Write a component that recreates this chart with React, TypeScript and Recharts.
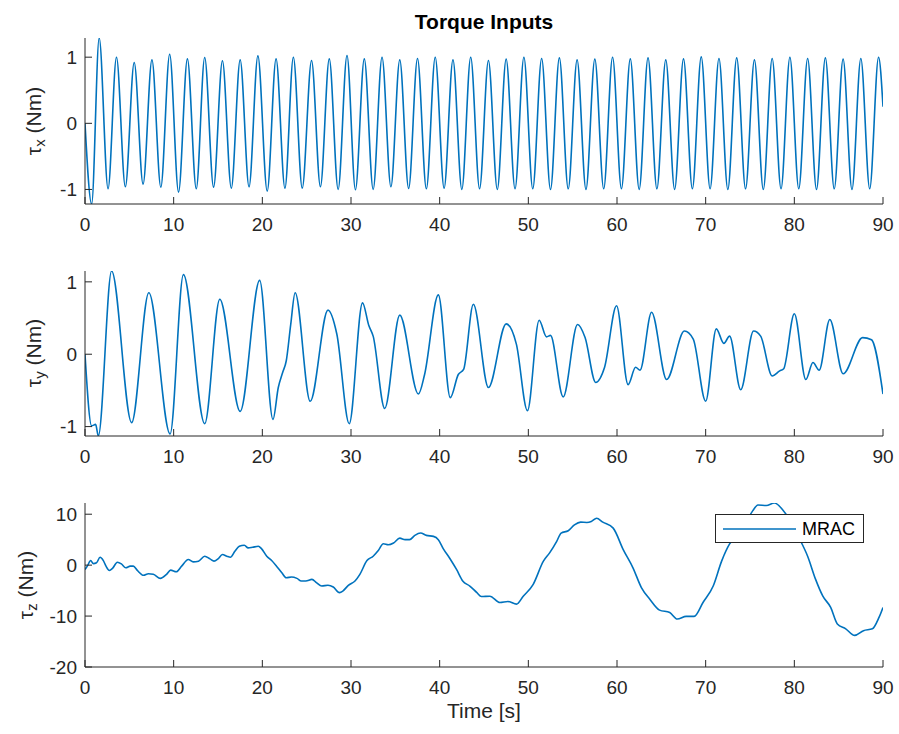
import { LineChart, Line, XAxis, YAxis, Legend } from 'recharts'

// time axis shared by all three panels
const timeTicks = [0, 10, 20, 30, 40, 50, 60, 70, 80, 90]

// tau_x (roll torque) – turning points
const tauXTime = [
  0, 0.75, 1.6, 2.6, 3.55, 4.55, 5.55, 6.55, 7.55, 8.55, 9.55, 10.55, 11.55, 12.55, 13.5, 14.5,
  15.5, 16.5, 17.5, 18.5, 19.5, 20.55, 21.55, 22.55, 23.5, 24.5, 25.55, 26.55, 27.55, 28.55, 29.55,
  30.5, 31.5, 32.5, 33.5, 34.5, 35.5, 36.5, 37.5, 38.5, 39.5, 40.5, 41.5, 42.5, 43.5, 44.5, 45.5,
  46.5, 47.5, 48.5, 49.5, 50.5, 51.5, 52.5, 53.5, 54.5, 55.5, 56.5, 57.5, 58.5, 59.5, 60.5, 61.5,
  62.5, 63.5, 64.5, 65.5, 66.5, 67.5, 68.5, 69.5, 70.5, 71.5, 72.5, 73.5, 74.5, 75.5, 76.5, 77.5,
  78.5, 79.5, 80.5, 81.5, 82.5, 83.5, 84.5, 85.5, 86.5, 87.5, 88.5, 89.5, 90,
]
const tauXValue = [
  0, -1.22, 1.29, -0.99, 1.0, -0.96, 0.92, -0.92, 0.96, -0.965, 1.045, -1.04, 0.975, -0.99, 0.995,
  -0.965, 0.945, -0.98, 0.96, -0.96, 1.02, -1.025, 0.975, -0.98, 1.0, -0.98, 0.95, -0.96, 0.975,
  -1.0, 1.025, -1.005, 0.975, -1.0, 1.0, -0.96, 0.96, -0.985, 0.98, -0.99, 1.0, -0.98, 0.96, -1.0,
  1.0, -0.99, 0.95, -1.0, 0.97, -0.99, 1.0, -0.99, 0.98, -1.0, 0.99, -0.99, 0.96, -1.0, 0.97, -0.99,
  1.0, -0.99, 0.975, -1.0, 0.99, -0.99, 0.96, -1.0, 0.975, -0.99, 1.005, -0.99, 0.98, -1.0, 0.99,
  -0.99, 0.96, -1.0, 0.98, -0.99, 1.0, -0.99, 0.98, -1.0, 0.99, -0.99, 0.97, -1.0, 0.98, -0.99, 1.0,
  0.25,
]

// tau_y (pitch torque)
const tauYTime = [
  0, 0.75, 1.2, 1.5, 3.0, 5.26, 7.2, 9.6, 11.1, 13.5, 15.2, 17.5, 19.7, 21.2, 21.8, 22.3, 22.7,
  23.2, 23.7, 25.4, 27.4, 28.4, 29.8, 31.3, 32.0, 32.5, 33.8, 35.5, 37.6, 38.3, 39.85, 41.2, 42.1,
  42.7, 43.8, 45.5, 47.5, 48.65, 49.9, 51.22, 52.05, 52.5, 53.93, 55.55, 56.4, 57.6, 58.6, 59.95,
  61.25, 62.1, 62.6, 63.9, 65.6, 67.6, 68.6, 70.0, 71.2, 72.05, 72.7, 73.95, 75.4, 76.2, 77.5, 78.35,
  78.8, 80.0, 81.3, 82.1, 82.8, 84.0, 85.5, 87.7, 88.7, 90,
]
const tauYValue = [
  0, -0.99, -0.97, -1.13, 1.15, -0.945, 0.85, -1.1, 1.1, -0.96, 0.76, -0.79, 1.02, -0.9, -0.46,
  -0.25, -0.09, 0.41, 0.85, -0.65, 0.61, 0.28, -0.96, 0.71, 0.4, 0.25, -0.75, 0.54, -0.55, -0.28,
  0.82, -0.6, -0.28, -0.21, 0.69, -0.46, 0.42, 0.14, -0.78, 0.47, 0.24, 0.26, -0.59, 0.41, 0.23,
  -0.39, -0.18, 0.67, -0.42, -0.18, -0.22, 0.58, -0.35, 0.32, 0.21, -0.65, 0.35, 0.15, 0.25, -0.49,
  0.32, 0.25, -0.3, -0.23, -0.2, 0.56, -0.35, -0.115, -0.22, 0.48, -0.27, 0.23, 0.2, -0.55,
]

// tau_z (yaw torque)
const tauZTime = [
  0, 0.26, 0.64, 0.94, 1.3, 1.7, 2.07, 2.37, 2.74, 3.1, 3.65, 4.1, 4.6, 5.1, 5.45, 5.9, 6.6, 7.15,
  7.7, 8.5, 9.2, 9.66, 10.3, 10.9, 11.65, 12.2, 12.8, 13.5, 14.1, 14.55, 15.0, 15.5, 16.0, 16.4,
  16.9, 17.4, 17.97, 18.4, 18.9, 19.55, 19.9, 20.5, 21.05, 21.6, 22.2, 22.7, 23.3, 23.9, 24.4, 24.9,
  25.6, 26.1, 26.7, 27.4, 28.0, 28.7, 29.1, 29.7, 30.45, 31.0, 31.8, 32.5, 33.1, 33.65, 34.2, 34.8,
  35.5, 36.1, 36.6, 37.2, 37.85, 38.5, 39.3, 39.85, 40.4, 41.15, 41.9, 42.6, 43.4, 44.2, 44.7, 45.66,
  46.8, 47.7, 48.67, 49.4, 50.55, 51.7, 52.4, 53.2, 53.7, 54.5, 55.2, 55.9, 56.6, 57.1, 57.7, 58.4,
  59.57, 60.7, 61.8, 62.75, 63.7, 64.8, 65.95, 66.8, 67.8, 68.7, 69.7, 70.85, 71.8, 72.7, 73.65,
  74.6, 75.3, 75.9, 76.85, 77.75, 78.7, 79.6, 80.55, 81.5, 82.4, 83.2, 84.1, 84.85, 85.8, 86.8, 87.8,
  88.8, 89.55, 90,
]
const tauZValue = [
  -0.85, -0.2, 0.9, 0.3, 0.45, 1.56, 0.9, -0.2, -1.04, -0.65, 0.58, 0.26, -0.52, -0.2, -0.2, -1.04,
  -2.0, -1.7, -1.8, -2.6, -1.8, -0.97, -1.3, -0.2, 1.1, 0.65, 0.78, 1.75, 1.23, 0.78, 1.23, 2.08,
  1.75, 1.56, 2.73, 3.7, 3.9, 3.38, 3.5, 3.7, 3.25, 1.75, 0.9, -0.2, -1.5, -2.47, -2.34, -2.6, -3.1,
  -3.1, -2.8, -3.44, -4.1, -3.96, -4.3, -5.4, -5.06, -3.96, -3.1, -1.8, 0.9, 1.75, 2.92, 4.2, 4.0,
  4.35, 5.3, 5.0, 5.0, 5.84, 6.3, 5.84, 5.65, 5.0, 3.25, 1.3, -0.85, -3.1, -4.1, -5.4, -6.17, -6.1,
  -7.34, -7.14, -7.66, -6.17, -3.77, 0.78, 2.4, 4.68, 6.3, 6.75, 7.9, 8.44, 8.38, 8.57, 9.2, 8.44,
  7.27, 3.05, -0.52, -4.4, -6.7, -8.83, -9.3, -10.58, -10.06, -10.06, -7.34, -4.1, 0.78, 4.16, 5.97,
  8.57, 10.65, 11.8, 11.7, 12.2, 10.84, 8.57, 5.3, 1.75, -2.8, -6.04, -8.3, -11.56, -12.5, -13.8,
  -12.86, -12.5, -10.26, -8.3,
]

const unitTicks = [-1, 0, 1]
const tauZTicks = [-20, -10, 0, 10]

const LINE_COLOR = '#0072BD'
const AXIS_COLOR = '#262626'
const FONT = '"Liberation Sans", Arial, Helvetica, sans-serif'

const toRows = (time: number[], value: number[]) =>
  time.map((t, i) => ({ t, v: value[i] }))

function LegendBox() {
  return (
    <div
      style={{
        width: 149,
        height: 29,
        boxSizing: 'border-box',
        border: `1px solid ${AXIS_COLOR}`,
        background: '#fff',
        position: 'relative',
        fontFamily: FONT,
      }}
    >
      <svg width={149} height={29} style={{ position: 'absolute', left: 0, top: 0 }}>
        <line x1={7} x2={80} y1={14} y2={14} stroke={LINE_COLOR} strokeWidth={1.5} />
      </svg>
      <span
        style={{
          position: 'absolute',
          left: 86,
          top: 4,
          fontSize: 18,
          lineHeight: '20px',
          color: '#000',
        }}
      >
        MRAC
      </span>
    </div>
  )
}

interface PanelProps {
  top: number
  height: number
  marginTop: number
  marginBottom: number
  data: { t: number; v: number }[]
  domain: [number, number]
  ticks: number[]
  showLegend?: boolean
}

function Panel({ top, height, marginTop, marginBottom, data, domain, ticks, showLegend }: PanelProps) {
  const tickStyle = { fill: AXIS_COLOR, fontSize: 19, fontFamily: FONT }
  return (
    <div style={{ position: 'absolute', left: 0, top }}>
      <LineChart
        width={899}
        height={height}
        data={data}
        margin={{ top: marginTop, right: 16, bottom: marginBottom, left: 25 }}
      >
        <XAxis
          dataKey="t"
          type="number"
          domain={[0, 90]}
          ticks={timeTicks}
          interval={0}
          allowDataOverflow
          height={30}
          tickSize={-7}
          tickMargin={21}
          stroke={AXIS_COLOR}
          tick={tickStyle}
        />
        <XAxis
          xAxisId="top"
          orientation="top"
          type="number"
          domain={[0, 90]}
          ticks={timeTicks}
          interval={0}
          allowDataOverflow
          height={0}
          tickSize={-7}
          tick={false}
          stroke={AXIS_COLOR}
        />
        <YAxis
          type="number"
          domain={domain}
          ticks={ticks}
          interval={0}
          allowDataOverflow
          width={60}
          tickSize={-7}
          tickMargin={15}
          stroke={AXIS_COLOR}
          tick={tickStyle}
        />
        <YAxis
          yAxisId="right"
          orientation="right"
          type="number"
          domain={domain}
          ticks={ticks}
          interval={0}
          allowDataOverflow
          width={0}
          tickSize={-7}
          tick={false}
          stroke={AXIS_COLOR}
        />
        {showLegend && (
          <Legend
            layout="vertical"
            align="center"
            verticalAlign="middle"
            wrapperStyle={{ left: 715, top: 44, width: 149, height: 29 }}
            content={() => <LegendBox />}
          />
        )}
        <Line
          type="monotone"
          dataKey="v"
          name="MRAC"
          stroke={LINE_COLOR}
          strokeWidth={1.6}
          dot={false}
          activeDot={false}
          isAnimationActive={false}
        />
      </LineChart>
    </div>
  )
}

function AxisTitle({ x, y, sub }: { x: number; y: number; sub: string }) {
  return (
    <div
      style={{
        position: 'absolute',
        left: x,
        top: y,
        transform: 'translate(-50%, -50%) rotate(-90deg)',
        whiteSpace: 'nowrap',
        fontFamily: FONT,
        fontSize: 21,
        lineHeight: 1,
        color: AXIS_COLOR,
      }}
    >
      τ<sub style={{ fontSize: 15, verticalAlign: '-4px' }}>{sub}</sub> (Nm)
    </div>
  )
}

export default function App() {
  return (
    <div
      style={{
        position: 'absolute',
        left: 0,
        top: 0,
        width: 899,
        height: 734,
        background: '#fff',
        fontFamily: FONT,
      }}
    >
      <Panel
        top={0}
        height={240}
        marginTop={38}
        marginBottom={6}
        data={toRows(tauXTime, tauXValue)}
        domain={[-1.22, 1.29]}
        ticks={unitTicks}
      />
      <Panel
        top={240}
        height={230}
        marginTop={31}
        marginBottom={4}
        data={toRows(tauYTime, tauYValue)}
        domain={[-1.13, 1.15]}
        ticks={unitTicks}
      />
      <Panel
        top={470}
        height={264}
        marginTop={33}
        marginBottom={37}
        data={toRows(tauZTime, tauZValue)}
        domain={[-20, 12.2]}
        ticks={tauZTicks}
        showLegend
      />
      <div
        style={{
          position: 'absolute',
          left: 484,
          top: 11,
          transform: 'translateX(-50%)',
          fontSize: 21,
          fontWeight: 'bold',
          lineHeight: 1,
          color: '#000',
          whiteSpace: 'nowrap',
        }}
      >
        Torque Inputs
      </div>
      <AxisTitle x={35} y={121} sub="x" />
      <AxisTitle x={35} y={353} sub="y" />
      <AxisTitle x={27} y={585} sub="z" />
      <div
        style={{
          position: 'absolute',
          left: 484,
          top: 700,
          transform: 'translateX(-50%)',
          fontSize: 21,
          lineHeight: 1,
          color: AXIS_COLOR,
          whiteSpace: 'nowrap',
        }}
      >
        Time [s]
      </div>
    </div>
  )
}
